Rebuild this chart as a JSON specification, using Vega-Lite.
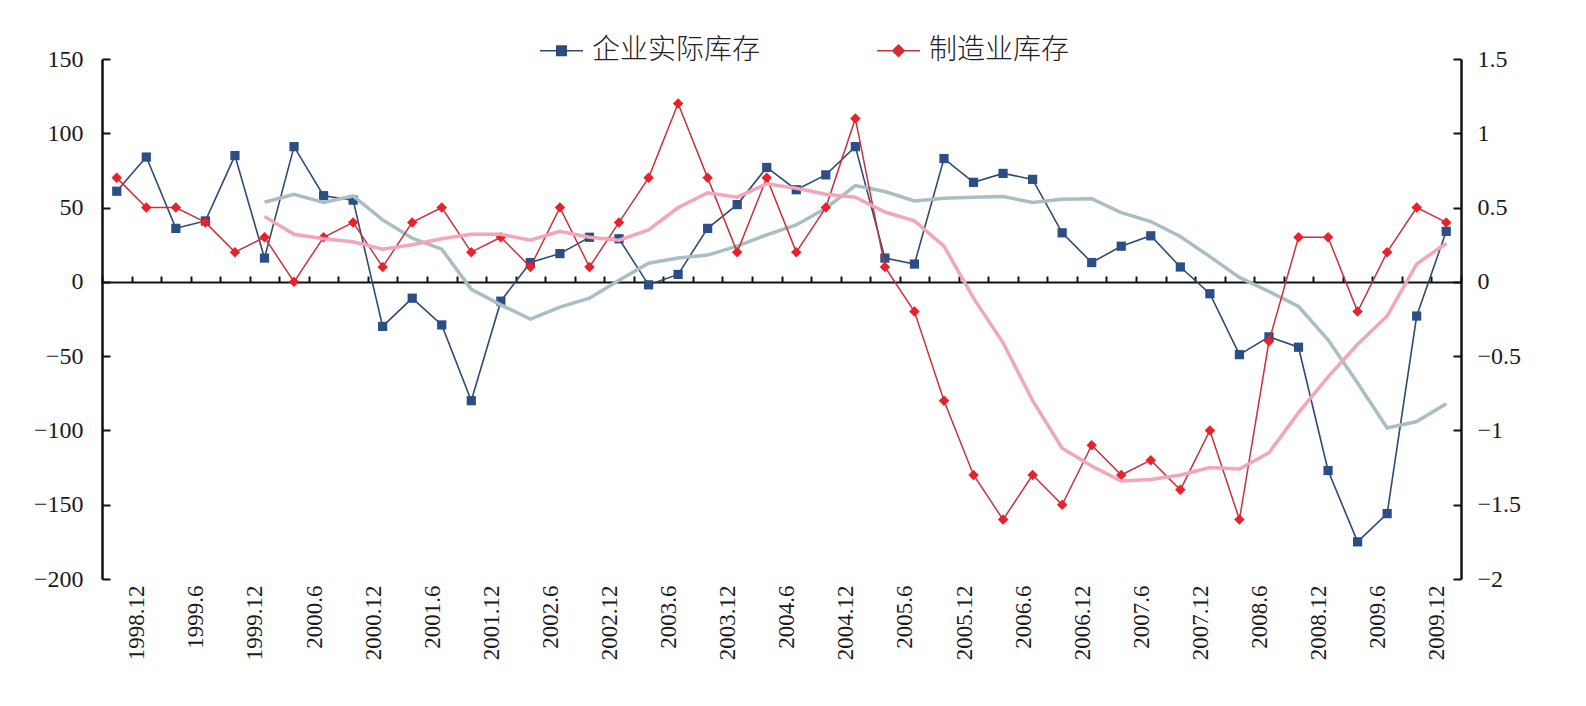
{
  "$schema": "https://vega.github.io/schema/vega-lite/v6.json",
  "width": 1359,
  "height": 520,
  "autosize": {"type": "none"},
  "padding": {"left": 102, "top": 59, "right": 125, "bottom": 127},
  "background": "white",
  "config": {
    "view": {"stroke": null},
    "axis": {"grid": false, "labelFont": "Liberation Serif", "labelColor": "#1a1a1a", "domainColor": "#111111", "tickColor": "#111111", "title": null}
  },
  "data": {
    "values": [
      {"q": "1998.9", "inv": 61, "mfg": 0.7, "inv_ma": null, "mfg_ma": null},
      {"q": "1998.12", "inv": 84, "mfg": 0.5, "inv_ma": null, "mfg_ma": null},
      {"q": "1999.3", "inv": 36, "mfg": 0.5, "inv_ma": null, "mfg_ma": null},
      {"q": "1999.6", "inv": 41, "mfg": 0.4, "inv_ma": null, "mfg_ma": null},
      {"q": "1999.9", "inv": 85, "mfg": 0.2, "inv_ma": null, "mfg_ma": null},
      {"q": "1999.12", "inv": 16, "mfg": 0.3, "inv_ma": 53.6, "mfg_ma": 0.44},
      {"q": "2000.3", "inv": 91, "mfg": 0.0, "inv_ma": 59, "mfg_ma": 0.32},
      {"q": "2000.6", "inv": 58, "mfg": 0.3, "inv_ma": 53.4, "mfg_ma": 0.29},
      {"q": "2000.9", "inv": 55, "mfg": 0.4, "inv_ma": 57.8, "mfg_ma": 0.27},
      {"q": "2000.12", "inv": -30, "mfg": 0.1, "inv_ma": 41.7, "mfg_ma": 0.22},
      {"q": "2001.3", "inv": -11, "mfg": 0.4, "inv_ma": 29.4, "mfg_ma": 0.25},
      {"q": "2001.6", "inv": -29, "mfg": 0.5, "inv_ma": 22, "mfg_ma": 0.29},
      {"q": "2001.9", "inv": -80, "mfg": 0.2, "inv_ma": -5, "mfg_ma": 0.32},
      {"q": "2001.12", "inv": -13, "mfg": 0.3, "inv_ma": -15.5, "mfg_ma": 0.32},
      {"q": "2002.3", "inv": 13, "mfg": 0.1, "inv_ma": -25, "mfg_ma": 0.28},
      {"q": "2002.6", "inv": 19, "mfg": 0.5, "inv_ma": -17, "mfg_ma": 0.34},
      {"q": "2002.9", "inv": 30, "mfg": 0.1, "inv_ma": -11, "mfg_ma": 0.30},
      {"q": "2002.12", "inv": 29, "mfg": 0.4, "inv_ma": 1, "mfg_ma": 0.28},
      {"q": "2003.3", "inv": -2, "mfg": 0.7, "inv_ma": 12.5, "mfg_ma": 0.35},
      {"q": "2003.6", "inv": 5, "mfg": 1.2, "inv_ma": 16, "mfg_ma": 0.50},
      {"q": "2003.9", "inv": 36, "mfg": 0.7, "inv_ma": 18, "mfg_ma": 0.60},
      {"q": "2003.12", "inv": 52, "mfg": 0.2, "inv_ma": 24, "mfg_ma": 0.57},
      {"q": "2004.3", "inv": 77, "mfg": 0.7, "inv_ma": 31.6, "mfg_ma": 0.66},
      {"q": "2004.6", "inv": 62, "mfg": 0.2, "inv_ma": 38.3, "mfg_ma": 0.63},
      {"q": "2004.9", "inv": 72, "mfg": 0.5, "inv_ma": 49.6, "mfg_ma": 0.59},
      {"q": "2004.12", "inv": 91, "mfg": 1.1, "inv_ma": 64.8, "mfg_ma": 0.57},
      {"q": "2005.3", "inv": 16, "mfg": 0.1, "inv_ma": 60.8, "mfg_ma": 0.47},
      {"q": "2005.6", "inv": 12, "mfg": -0.2, "inv_ma": 54.5, "mfg_ma": 0.41},
      {"q": "2005.9", "inv": 83, "mfg": -0.8, "inv_ma": 56.3, "mfg_ma": 0.24},
      {"q": "2005.12", "inv": 67, "mfg": -1.3, "inv_ma": 57, "mfg_ma": -0.11},
      {"q": "2006.3", "inv": 73, "mfg": -1.6, "inv_ma": 57.4, "mfg_ma": -0.41},
      {"q": "2006.6", "inv": 69, "mfg": -1.3, "inv_ma": 53.4, "mfg_ma": -0.80},
      {"q": "2006.9", "inv": 33, "mfg": -1.5, "inv_ma": 55.6, "mfg_ma": -1.12},
      {"q": "2006.12", "inv": 13, "mfg": -1.1, "inv_ma": 56, "mfg_ma": -1.24},
      {"q": "2007.3", "inv": 24, "mfg": -1.3, "inv_ma": 46.6, "mfg_ma": -1.34},
      {"q": "2007.6", "inv": 31, "mfg": -1.2, "inv_ma": 40.6, "mfg_ma": -1.33},
      {"q": "2007.9", "inv": 10, "mfg": -1.4, "inv_ma": 30.5, "mfg_ma": -1.30},
      {"q": "2007.12", "inv": -8, "mfg": -1.0, "inv_ma": 17, "mfg_ma": -1.25},
      {"q": "2008.3", "inv": -49, "mfg": -1.6, "inv_ma": 3, "mfg_ma": -1.26},
      {"q": "2008.6", "inv": -37, "mfg": -0.4, "inv_ma": -6.5, "mfg_ma": -1.15},
      {"q": "2008.9", "inv": -44, "mfg": 0.3, "inv_ma": -16.6, "mfg_ma": -0.88},
      {"q": "2008.12", "inv": -127, "mfg": 0.3, "inv_ma": -39, "mfg_ma": -0.64},
      {"q": "2009.3", "inv": -175, "mfg": -0.2, "inv_ma": -68, "mfg_ma": -0.42},
      {"q": "2009.6", "inv": -156, "mfg": 0.2, "inv_ma": -98.4, "mfg_ma": -0.23},
      {"q": "2009.9", "inv": -23, "mfg": 0.5, "inv_ma": -94, "mfg_ma": 0.12},
      {"q": "2009.12", "inv": 34, "mfg": 0.4, "inv_ma": -82, "mfg_ma": 0.26}
    ]
  },
  "layer": [
    {
      "encoding": {
        "x": {
          "field": "q", "type": "ordinal", "sort": null, "bandPosition": 0.5,
          "scale": {"type": "band", "paddingInner": 0, "paddingOuter": 0},
          "axis": {
            "orient": "bottom", "domain": false, "ticks": false,
            "labelFont": "Liberation Serif", "labelAngle": -90, "labelFontSize": 23,
            "labelPadding": 6, "labelOffset": -9, "labelOverlap": false,
            "labelExpr": "indexof(['6', '12'], split(datum.label, '.')[1]) >= 0 ? datum.label : ''"
          }
        }
      },
      "layer": [
        {
          "mark": {"type": "line", "strokeWidth": 1.6},
          "encoding": {
            "y": {
              "field": "inv", "type": "quantitative",
              "scale": {"domain": [-200, 150], "nice": false, "zero": false},
              "axis": {
                "orient": "left", "values": [-200, -150, -100, -50, 0, 50, 100, 150], "format": "d",
                "labelFont": "Liberation Serif", "tickSize": -8, "tickWidth": 2, "domainWidth": 2.5,
                "labelFontSize": 24, "labelPadding": 27
              }
            },
            "color": {
              "datum": "企业实际库存", "type": "nominal",
              "scale": {"domain": ["企业实际库存", "制造业库存"], "range": ["#2d4b75", "#c8323c"]},
              "legend": {
                "title": null, "orient": "none", "legendX": 437, "legendY": -31,
                "direction": "horizontal", "padding": 0,
                "labelFont": "Noto Sans CJK SC", "labelFontSize": 28, "labelFontWeight": 300,
                "labelColor": "#222222", "labelOffset": 8, "labelLimit": 0, "columnPadding": 112,
                "symbolSize": 1850, "symbolStrokeWidth": 1.5,
                "encode": {
                  "symbols": {
                    "update": {
                      "shape": {"signal": "datum.value === '企业实际库存' ? 'M-1,0H1M-0.22,-0.22H0.22V0.22H-0.22Z' : 'M-1,0H1M-0.27,0L0,-0.27L0.27,0L0,0.27Z'"},
                      "fill": {"signal": "datum.value === '企业实际库存' ? '#2a4e85' : '#e8212b'"},
                      "stroke": {"signal": "datum.value === '企业实际库存' ? '#2d4b75' : '#c8323c'"},
                      "opacity": {"value": 1},
                      "fillOpacity": {"value": 1}
                    }
                  }
                }
              }
            }
          }
        },
        {
          "mark": {"type": "point", "shape": "square", "filled": true, "size": 85, "color": "#2a4e85", "opacity": 1},
          "encoding": {"y": {"field": "inv", "type": "quantitative"}}
        },
        {
          "mark": {"type": "line", "strokeWidth": 3.5, "color": "#a9bec4"},
          "encoding": {"y": {"field": "inv_ma", "type": "quantitative"}}
        }
      ]
    },
    {
      "encoding": {
        "x": {
          "field": "q", "type": "ordinal", "sort": null, "bandPosition": 0.5,
          "scale": {"type": "band", "paddingInner": 0, "paddingOuter": 0},
          "axis": {
            "orient": "top", "offset": -223, "labels": false, "domain": true, "domainWidth": 2,
            "ticks": true, "tickBand": "extent", "tickSize": 6, "tickWidth": 2
          }
        }
      },
      "layer": [
        {
          "mark": {"type": "line", "strokeWidth": 1.5},
          "encoding": {
            "y": {
              "field": "mfg", "type": "quantitative",
              "scale": {"domain": [-2, 1.5], "nice": false, "zero": false},
              "axis": {
                "orient": "right", "values": [-2, -1.5, -1, -0.5, 0, 0.5, 1, 1.5], "format": "~r",
                "labelFont": "Liberation Serif", "tickSize": -8, "tickWidth": 2, "domainWidth": 2.5,
                "labelFontSize": 24, "labelPadding": 24
              }
            },
            "color": {"datum": "制造业库存", "type": "nominal"}
          }
        },
        {
          "mark": {"type": "point", "shape": "diamond", "filled": true, "size": 110, "color": "#e8212b", "opacity": 1},
          "encoding": {"y": {"field": "mfg", "type": "quantitative"}}
        },
        {
          "mark": {"type": "line", "strokeWidth": 3.5, "color": "#f2a6b7"},
          "encoding": {"y": {"field": "mfg_ma", "type": "quantitative"}}
        }
      ]
    }
  ],
  "resolve": {
    "scale": {"y": "independent"},
    "axis": {"y": "independent", "x": "independent"}
  }
}
